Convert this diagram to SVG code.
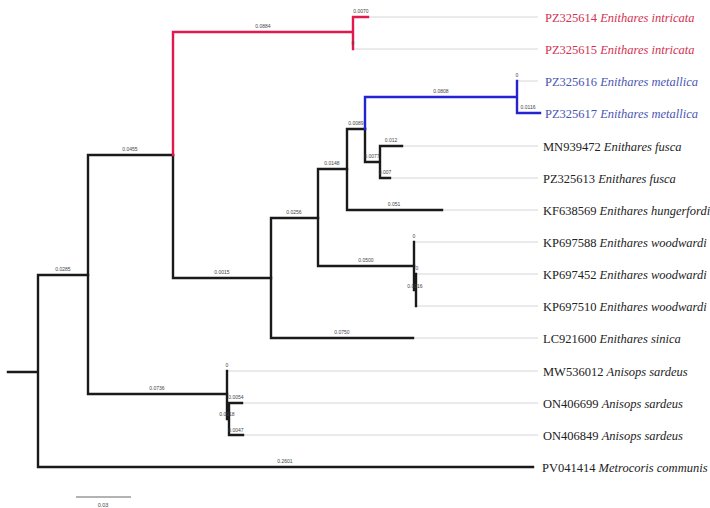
<svg xmlns="http://www.w3.org/2000/svg" width="710" height="508" viewBox="0 0 710 508">
<style>
.b{stroke:#1a1a1a;stroke-width:2.4;fill:none;stroke-linecap:square}
.r{stroke:#e3194d;stroke-width:2.4;fill:none;stroke-linecap:square}
.u{stroke:#2323d2;stroke-width:2.4;fill:none;stroke-linecap:square}
.l{stroke:#d6d6d6;stroke-width:1;fill:none}
.bl{font-family:"Liberation Sans",Arial,sans-serif;font-size:5px;fill:#444;text-anchor:middle}
.t{font-family:"Liberation Serif","Times New Roman",serif;font-size:12.5px;fill:#222}
.t tspan.s{font-style:italic}
.red{fill:#d4304f}
.blue{fill:#4a55b0}
</style>
<rect width="710" height="508" fill="#fff"/>
<g id="connectors">
<g id="leaders">
<path class="l" d="M368 17H538M353 49H538M517 81H538M402 146H538M390 178H538M442 210H538M414 242H538M416 274H538M416 306H538M413 338H538M227 371H538M242 403H538M243 435H538"/>
</g>
<g id="branches">
<path class="b" d="M8 372H38M38 275V467M38 275H88M38 467H533"/>
<path class="b" d="M88 155V394M88 155H173M88 394H227"/>
<path class="b" d="M173 155V278M173 278H271"/>
<path class="r" d="M173 32V155M173 32H353M353 17V49M353 17H368"/>
<path class="b" d="M271 218V338M271 218H318M271 338H413"/>
<path class="b" d="M318 169V266M318 169H347M318 266H414"/>
<path class="b" d="M347 129V210M347 129H365M347 210H442"/>
<path class="b" d="M365 129V162M365 162H380M380 146V178M380 146H402M380 178H390"/>
<path class="u" d="M365 97V129M365 97H517M517 81V113M517 113H540"/>
<path class="b" d="M414 242V290M414 290H416M416 274V306"/>
<path class="b" d="M227 371V419M227 419H229M229 403V435M229 403H242M229 435H243"/>
</g>
<g id="branch-labels">
<text class="bl" x="63" y="271">0.0285</text>
<text class="bl" x="285" y="463">0.2601</text>
<text class="bl" x="130" y="151">0.0455</text>
<text class="bl" x="157" y="390">0.0736</text>
<text class="bl" x="263" y="28">0.0884</text>
<text class="bl" x="361" y="13">0.0070</text>
<text class="bl" x="353" y="45">0</text>
<text class="bl" x="222" y="274">0.0015</text>
<text class="bl" x="294" y="214">0.0256</text>
<text class="bl" x="342" y="334">0.0750</text>
<text class="bl" x="332" y="165">0.0148</text>
<text class="bl" x="366" y="262">0.0500</text>
<text class="bl" x="356" y="125">0.0089</text>
<text class="bl" x="394" y="206">0.051</text>
<text class="bl" x="441" y="93">0.0808</text>
<text class="bl" x="517" y="77">0</text>
<text class="bl" x="528" y="109">0.0116</text>
<text class="bl" x="372" y="158">0.0077</text>
<text class="bl" x="391" y="142">0.012</text>
<text class="bl" x="385" y="174">0.007</text>
<text class="bl" x="414" y="238">0</text>
<text class="bl" x="417" y="270">0</text>
<text class="bl" x="415" y="288">0.0016</text>
<text class="bl" x="227" y="367">0</text>
<text class="bl" x="236" y="399">0.0054</text>
<text class="bl" x="227" y="416">0.0018</text>
<text class="bl" x="236" y="432">0.0047</text>
</g>
</g>
<g id="n-PZ325614"><text class="t red" x="545" y="21.5">PZ325614 <tspan class="s">Enithares intricata</tspan></text></g>
<g id="n-PZ325615"><text class="t red" x="545" y="53.5">PZ325615 <tspan class="s">Enithares intricata</tspan></text></g>
<g id="n-PZ325616"><text class="t blue" x="545" y="85.5">PZ325616 <tspan class="s">Enithares metallica</tspan></text></g>
<g id="n-PZ325617"><text class="t blue" x="545" y="117.5">PZ325617 <tspan class="s">Enithares metallica</tspan></text></g>
<g id="n-MN939472"><text class="t" x="543" y="150.5">MN939472 <tspan class="s">Enithares fusca</tspan></text></g>
<g id="n-PZ325613"><text class="t" x="543" y="182.5">PZ325613 <tspan class="s">Enithares fusca</tspan></text></g>
<g id="n-KF638569"><text class="t" x="543" y="214.5">KF638569 <tspan class="s">Enithares hungerfordi</tspan></text></g>
<g id="n-KP697588"><text class="t" x="543" y="246.5">KP697588 <tspan class="s">Enithares woodwardi</tspan></text></g>
<g id="n-KP697452"><text class="t" x="543" y="278.5">KP697452 <tspan class="s">Enithares woodwardi</tspan></text></g>
<g id="n-KP697510"><text class="t" x="543" y="310.5">KP697510 <tspan class="s">Enithares woodwardi</tspan></text></g>
<g id="n-LC921600"><text class="t" x="543" y="342.5">LC921600 <tspan class="s">Enithares sinica</tspan></text></g>
<g id="n-MW536012"><text class="t" x="543" y="375.5">MW536012 <tspan class="s">Anisops sardeus</tspan></text></g>
<g id="n-ON406699"><text class="t" x="543" y="407.5">ON406699 <tspan class="s">Anisops sardeus</tspan></text></g>
<g id="n-ON406849"><text class="t" x="543" y="439.5">ON406849 <tspan class="s">Anisops sardeus</tspan></text></g>
<g id="n-PV041414"><text class="t" x="542" y="471.5">PV041414 <tspan class="s">Metrocoris communis</tspan></text></g>
<g id="scale">
<path d="M76 497H131" stroke="#666" stroke-width="1"/>
<text class="bl" x="103" y="507" style="font-size:5.5px">0.03</text>
</g>
</svg>
